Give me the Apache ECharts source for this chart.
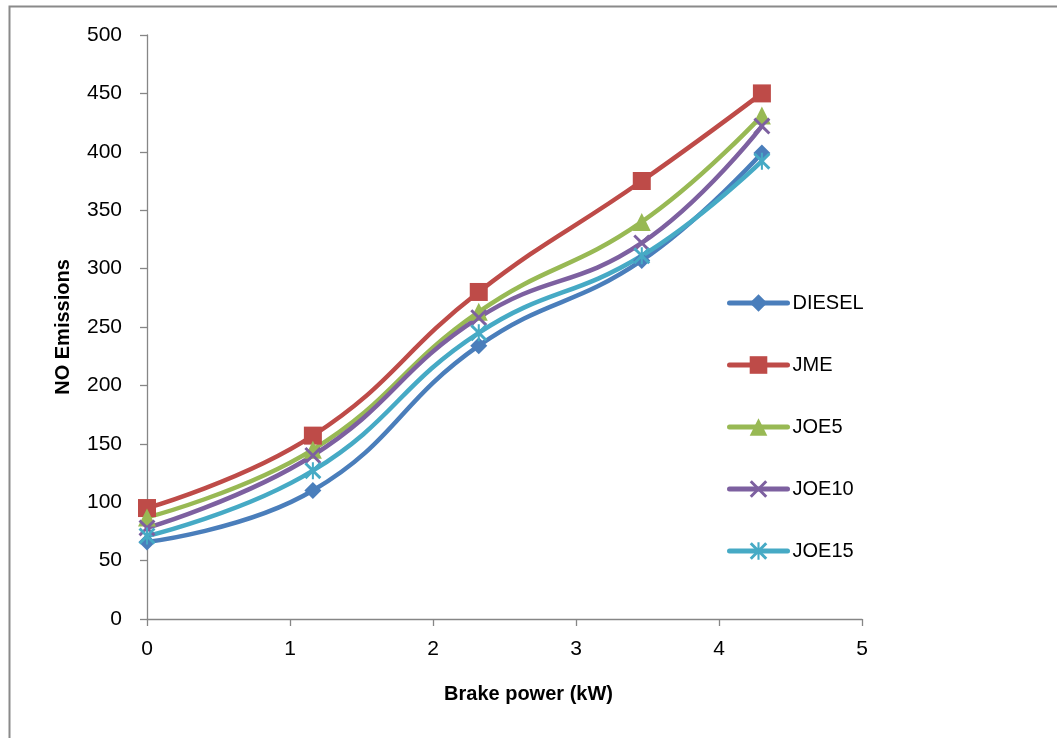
<!DOCTYPE html>
<html>
<head>
<meta charset="utf-8">
<script src="https://cdn.jsdelivr.net/npm/echarts@6/dist/echarts.min.js"></script>
<style>html,body{margin:0;padding:0;background:#fff}#c{width:1057px;height:738px}</style>
</head>
<body>
<div id="c"></div>
<script>
var brakePower = [0, 1.16, 2.32, 3.46, 4.3];
var seriesNames = ['DIESEL', 'JME', 'JOE5', 'JOE10', 'JOE15'];
var diesel = [66, 110, 234, 307, 399];
var jme = [95, 157, 280, 375, 450];
var joe5 = [87, 145, 263, 340, 431];
var joe10 = [78, 140, 258, 322, 422];
var joe15 = [71, 127, 245, 311, 392];
var yTicks = [0, 50, 100, 150, 200, 250, 300, 350, 400, 450, 500];
var xTicks = [0, 1, 2, 3, 4, 5];

var colors = ['#4A7EBB', '#BE4B48', '#98B954', '#7D60A0', '#46AAC5'];
var xPath = 'path://M0,1.2 L1.2,0 L5,3.8 L8.8,0 L10,1.2 L6.2,5 L10,8.8 L8.8,10 L5,6.2 L1.2,10 L0,8.8 L3.8,5 Z';
var starPath = 'path://M0,1.2 L1.2,0 L5,3.8 L8.8,0 L10,1.2 L6.2,5 L10,8.8 L8.8,10 L5,6.2 L1.2,10 L0,8.8 L3.8,5 Z M4.4,0 L5.6,0 L5.6,10 L4.4,10 Z';
var symbols = ['diamond', 'rect', 'triangle', xPath, starPath];
var sizes = [17, 18, 18, 17, 17];
var values = [diesel, jme, joe5, joe10, joe15];

function pairs(xs, ys) { return xs.map(function (x, i) { return [x, ys[i]]; }); }

var font = '"Liberation Sans", Arial, sans-serif';
var chart = echarts.init(document.getElementById('c'), null, {renderer: 'canvas'});
chart.setOption({
  animation: false,
  backgroundColor: '#fff',
  grid: {left: 147, right: 195, top: 35, bottom: 119},
  xAxis: {
    type: 'value', min: 0, max: 5, interval: 1,
    axisLine: {lineStyle: {color: '#868686', width: 1.3}},
    axisTick: {show: true, length: 7, lineStyle: {color: '#868686', width: 1.3}},
    splitLine: {show: false},
    axisLabel: {color: '#000', fontSize: 21, fontFamily: font, margin: 20,
      formatter: function (v) { return xTicks.indexOf(v) >= 0 ? String(v) : ''; }}
  },
  yAxis: {
    type: 'value', min: 0, max: 500, interval: 50,
    name: 'NO Emissions', nameLocation: 'middle', nameGap: 74, nameRotate: 90,
    nameTextStyle: {color: '#000', fontSize: 20, fontWeight: 'bold', fontFamily: font},
    axisLine: {show: true, lineStyle: {color: '#868686', width: 1.3}},
    axisTick: {show: true, length: 7, lineStyle: {color: '#868686', width: 1.3}},
    splitLine: {show: false},
    axisLabel: {color: '#000', fontSize: 21, fontFamily: font, margin: 25,
      formatter: function (v) { return yTicks.indexOf(v) >= 0 ? String(v) : ''; }}
  },
  legend: {
    orient: 'vertical', left: 722, top: 288,
    itemWidth: 58, itemHeight: 22, itemGap: 42,
    lineStyle: {width: 5},
    textStyle: {color: '#000', fontSize: 20, fontFamily: font},
    data: seriesNames
  },
  graphic: [
    {type: 'rect', left: 7, top: 4, shape: {width: 1100, height: 800},
     style: {fill: 'none', stroke: '#8a8a8a', lineWidth: 2}, silent: true, z: -1},
    {type: 'text', left: 'center', top: 684, x: 0,
     style: {text: 'Brake power (kW)', fill: '#000', font: 'bold 20px ' + font,
             x: 593, y: 697, textAlign: 'center', textVerticalAlign: 'middle'}}
  ],
  series: seriesNames.map(function (n, i) {
    return {
      name: n, type: 'line', smooth: 0.45,
      data: pairs(brakePower, values[i]),
      symbol: symbols[i], symbolSize: sizes[i],
      lineStyle: {color: colors[i], width: 4.5, cap: 'round'},
      itemStyle: {color: colors[i]}
    };
  })
});
</script>
</body>
</html>
